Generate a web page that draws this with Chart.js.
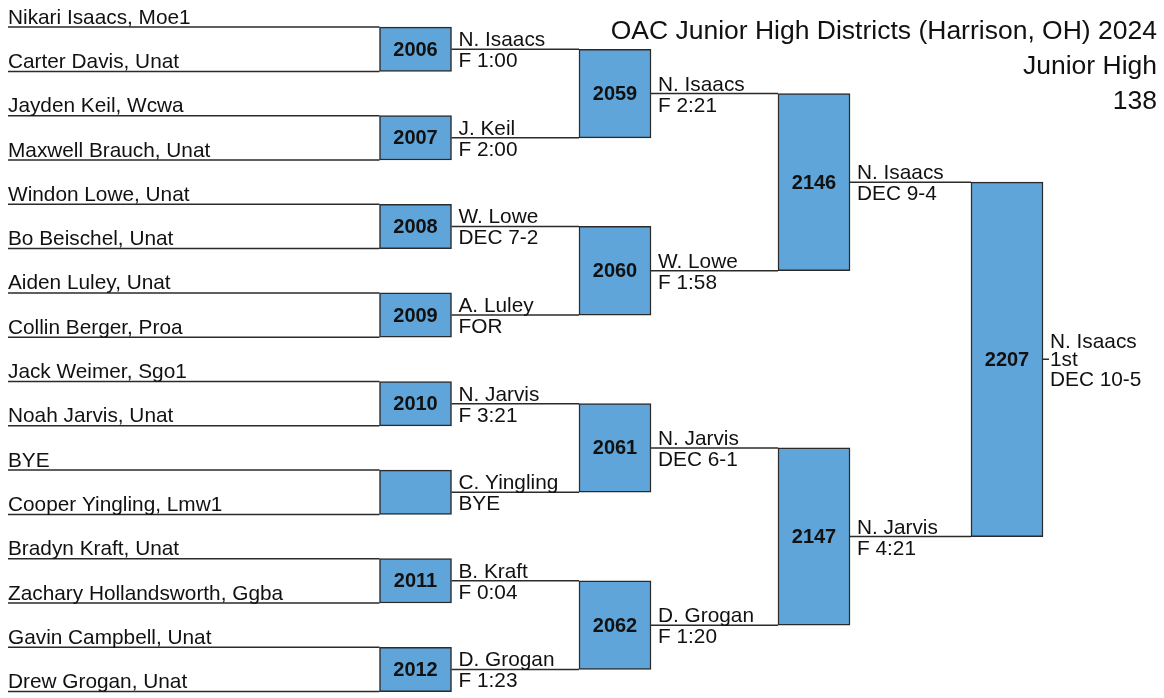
<!DOCTYPE html>
<html>
<head>
<meta charset="utf-8">
<script src="https://cdn.jsdelivr.net/npm/chart.js@4.4.1/dist/chart.umd.min.js"></script>
<style>
    html, body { margin: 0; padding: 0; background: #fff; }
    #holder { width: 1164px; height: 698px; }
</style>
</head>
<body>
<div id="holder"><canvas id="bracket" width="1164" height="698"></canvas></div>
<script>
// --- bracket data ---
var titleLines = ['OAC Junior High Districts (Harrison, OH) 2024', 'Junior High', '138'];

var entrants = [
    'Nikari Isaacs, Moe1', 'Carter Davis, Unat',
    'Jayden Keil, Wcwa', 'Maxwell Brauch, Unat',
    'Windon Lowe, Unat', 'Bo Beischel, Unat',
    'Aiden Luley, Unat', 'Collin Berger, Proa',
    'Jack Weimer, Sgo1', 'Noah Jarvis, Unat',
    'BYE', 'Cooper Yingling, Lmw1',
    'Bradyn Kraft, Unat', 'Zachary Hollandsworth, Ggba',
    'Gavin Campbell, Unat', 'Drew Grogan, Unat'
];

var boutNumbers = [
    ['2006', '2007', '2008', '2009', '2010', '', '2011', '2012'],
    ['2059', '2060', '2061', '2062'],
    ['2146', '2147'],
    ['2207']
];

var winners = [
    ['N. Isaacs', 'J. Keil', 'W. Lowe', 'A. Luley', 'N. Jarvis', 'C. Yingling', 'B. Kraft', 'D. Grogan'],
    ['N. Isaacs', 'W. Lowe', 'N. Jarvis', 'D. Grogan'],
    ['N. Isaacs', 'N. Jarvis'],
    ['N. Isaacs']
];

var results = [
    ['F 1:00', 'F 2:00', 'DEC 7-2', 'FOR', 'F 3:21', 'BYE', 'F 0:04', 'F 1:23'],
    ['F 2:21', 'F 1:58', 'DEC 6-1', 'F 1:20'],
    ['DEC 9-4', 'F 4:21'],
    ['DEC 10-5']
];

var placeLabel = '1st';

// --- layout ---
var SLOT_TOP = 27.1, SLOT_GAP = 44.3;      // pixel of first entrant line, gap between lines
var NAME_X = 8;
var BOX_LEFT = [379.5, 579, 778, 971];
var BOX_W = 72;
var TICK_LEN = 6;
var TEXT_FONT = '20.8px "Liberation Sans", Arial, sans-serif';
var BOLD_FONT = 'bold 20px "Liberation Sans", Arial, sans-serif';
var TITLE_FONT = '26.5px "Liberation Sans", Arial, sans-serif';
var LINE_COLOR = '#2b2b2b';
var BOX_COLOR = '#5fa5d9';

// slot span [top, bottom] of a match box, in entrant-line units
function matchSpan(r, m) {
    if (r === 0) return [2 * m, 2 * m + 1];
    var a = matchSpan(r - 1, 2 * m), b = matchSpan(r - 1, 2 * m + 1);
    return [(a[0] + a[1]) / 2, (b[0] + b[1]) / 2];
}
function mid(s) { return (s[0] + s[1]) / 2; }

var boxData = [];
var lineData = [];
var gap = {x: null, y: null};

entrants.forEach(function (name, i) {
    lineData.push({x: NAME_X, y: i}, {x: BOX_LEFT[0], y: i}, gap);
});

boutNumbers.forEach(function (round, r) {
    round.forEach(function (bout, m) {
        var span = matchSpan(r, m);
        boxData.push({x: BOX_LEFT[r] + BOX_W / 2, y: span});
        var right = BOX_LEFT[r] + BOX_W;
        var end = r < boutNumbers.length - 1 ? BOX_LEFT[r + 1] : right + TICK_LEN;
        lineData.push({x: right, y: mid(span)}, {x: end, y: mid(span)}, gap);
    });
});

var bracketText = {
    id: 'bracketText',
    afterDatasetsDraw: function (chart) {
        var ctx = chart.ctx;
        var xs = chart.scales.x, ys = chart.scales.y;
        ctx.save();
        ctx.fillStyle = '#111';
        ctx.textBaseline = 'alphabetic';

        // entrant names
        ctx.font = TEXT_FONT;
        ctx.textAlign = 'left';
        entrants.forEach(function (name, i) {
            ctx.fillText(name, xs.getPixelForValue(NAME_X), ys.getPixelForValue(i) - 3.5);
        });

        boutNumbers.forEach(function (round, r) {
            round.forEach(function (bout, m) {
                var span = matchSpan(r, m);
                var cy = ys.getPixelForValue(mid(span));
                var cx = xs.getPixelForValue(BOX_LEFT[r] + BOX_W / 2);
                var tx = xs.getPixelForValue(BOX_LEFT[r] + BOX_W) + 7;

                ctx.font = BOLD_FONT;
                ctx.textAlign = 'center';
                ctx.textBaseline = 'middle';
                ctx.fillText(bout, cx, cy + 1);

                ctx.font = TEXT_FONT;
                ctx.textAlign = 'left';
                ctx.textBaseline = 'alphabetic';
                if (r < boutNumbers.length - 1) {
                    ctx.fillText(winners[r][m], tx, cy - 3);
                    ctx.fillText(results[r][m], tx, cy + 18);
                } else {
                    ctx.fillText(winners[r][m], tx, cy - 11.5);
                    ctx.fillText(placeLabel, tx, cy + 6.5);
                    ctx.fillText(results[r][m], tx, cy + 26.5);
                }
            });
        });

        // title block, top right
        ctx.font = TITLE_FONT;
        ctx.textAlign = 'right';
        titleLines.forEach(function (t, i) {
            ctx.fillText(t, chart.chartArea.right - 7, 39 + i * 35);
        });
        ctx.restore();
    }
};

var ctx = document.getElementById('bracket').getContext('2d');
new Chart(ctx, {
    type: 'scatter',
    data: {
        datasets: [{
            type: 'bar',
            label: 'Bouts',
            data: boxData,
            backgroundColor: BOX_COLOR,
            borderColor: LINE_COLOR,
            borderWidth: 1.5,
            borderSkipped: false,
            barThickness: BOX_W
        }, {
            type: 'scatter',
            label: 'Lines',
            data: lineData,
            showLine: true,
            spanGaps: false,
            borderColor: LINE_COLOR,
            borderWidth: 1.5,
            pointRadius: 0,
            pointHoverRadius: 0
        }]
    },
    options: {
        responsive: false,
        animation: false,
        layout: { padding: 0 },
        plugins: {
            legend: { display: false },
            tooltip: { enabled: false },
            title: { display: false }
        },
        scales: {
            x: {
                type: 'linear',
                display: false,
                offset: false,
                min: 0,
                max: 1164
            },
            y: {
                type: 'linear',
                display: false,
                reverse: true,
                min: -SLOT_TOP / SLOT_GAP,
                max: (698 - SLOT_TOP) / SLOT_GAP
            }
        }
    },
    plugins: [bracketText]
});
</script>
</body>
</html>
